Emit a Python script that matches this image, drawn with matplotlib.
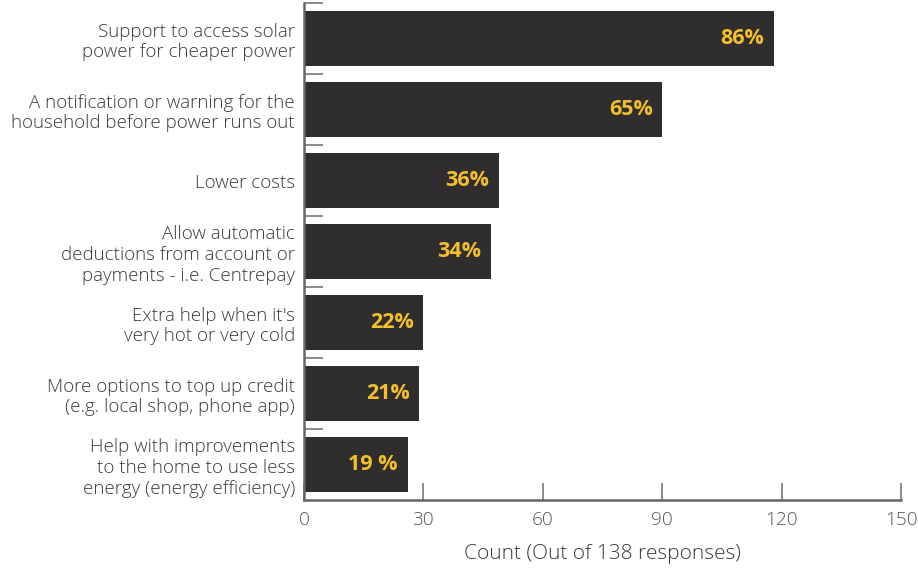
import numpy as np
import matplotlib.pyplot as plt

# Survey responses, top to bottom
categories = [
    "Support to access solar\npower for cheaper power",
    "A notification or warning for the\nhousehold before power runs out",
    "Lower costs",
    "Allow automatic\ndeductions from account or\npayments - i.e. Centrepay",
    "Extra help when it's\nvery hot or very cold",
    "More options to top up credit\n(e.g. local shop, phone app)",
    "Help with improvements\nto the home to use less\nenergy (energy efficiency)",
]
counts = [118, 90, 49, 47, 30, 29, 26]
pct_labels = ["86%", "65%", "36%", "34%", "22%", "21%", "19 %"]

plt.rcParams['font.family'] = ['Open Sans', 'DejaVu Sans']

fig = plt.figure(figsize=(9.18, 5.68), dpi=100)
ax = fig.add_axes([0.3312, 0.1197, 0.6503, 0.8750])

y = np.arange(len(categories))
ax.barh(y, counts, height=0.77, color='#2f2d2e')

for yi, c, lab in zip(y, counts, pct_labels):
    ax.annotate(lab, (c, yi), xytext=(-7, 0), textcoords='offset points',
                ha='right', va='center', color='#f4c02a', fontsize=15.5,
                fontweight='bold')

ax.set_ylim(len(categories) - 0.5, -0.5)
ax.set_xlim(0, 150)
ax.set_xticks(np.arange(0, 151, 30))

# category names as text, boundary ticks on the spine
ax.set_yticks(y)
ax.set_yticklabels(categories, fontsize=13.5, color='#3a3a3a',
                   fontweight='light', linespacing=1.2)
ax.tick_params(axis='y', length=0, pad=6.5)
ax.set_yticks(np.arange(-0.5, len(categories) - 1, 1), minor=True)
ax.tick_params(axis='y', which='minor', direction='in', length=14,
               width=1.2, color='#777777')

ax.tick_params(axis='x', direction='in', length=12, width=1.2,
               color='#777777', labelsize=13.7, labelcolor='#555555', pad=8)
for t in ax.get_xticklabels():
    t.set_fontweight('light')

for side in ['top', 'right']:
    ax.spines[side].set_visible(False)
for side in ['left', 'bottom']:
    ax.spines[side].set_color('#666666')
    ax.spines[side].set_linewidth(1.8)

ax.set_xlabel('Count (Out of 138 responses)', fontsize=15, color='#3a3a3a',
              fontweight='light', labelpad=11)

fig.savefig('out.png', dpi=100)
